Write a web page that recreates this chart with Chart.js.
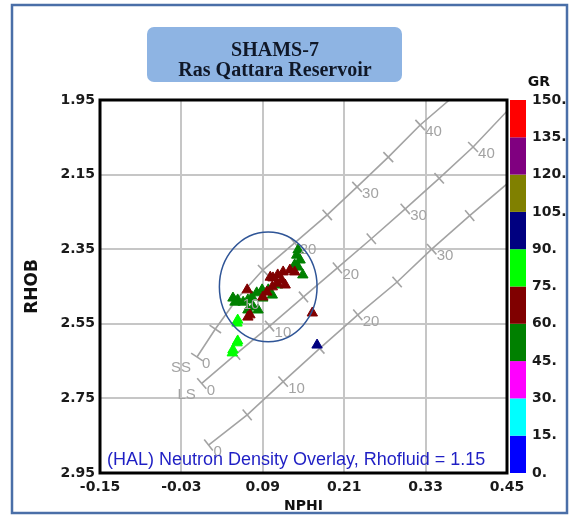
<!DOCTYPE html>
<html>
<head>
<meta charset="utf-8">
<script src="https://cdn.jsdelivr.net/npm/chart.js@4.4.1/dist/chart.umd.min.js"></script>
<style>
  html, body { margin: 0; padding: 0; background: #fff; }
  #wrap { position: relative; width: 571px; height: 521px; }
</style>
</head>
<body>
<div id="wrap"><canvas id="xplot" width="571" height="521"></canvas></div>
<script>
// axes
const nphiTicks = [-0.15, -0.03, 0.09, 0.21, 0.33, 0.45];
const rhobTicks = [1.95, 2.15, 2.35, 2.55, 2.75, 2.95];
const grTicks = [0, 15, 30, 45, 60, 75, 90, 105, 120, 135, 150];
const grColors = ['#0000ff', '#00ffff', '#ff00ff', '#008000', '#800000',
                  '#00ff00', '#000080', '#808000', '#800080', '#ff0000'];

// lithology overlay lines, a tick every 5 p.u.
const poro = [0, 5, 10, 15, 20, 25, 30, 35, 40];
const ssNphi = [-0.007, 0.020, 0.053, 0.090, 0.137, 0.185, 0.229, 0.275, 0.322];
const ssRhob = [2.639, 2.564, 2.481, 2.406, 2.333, 2.258, 2.183, 2.103, 2.017];
const ssEnd = [0.365, 1.95];
const lsNphi = [0.0, 0.05, 0.10, 0.15, 0.20, 0.25, 0.30, 0.35, 0.40];
const lsRhob = [2.71, 2.632, 2.556, 2.478, 2.400, 2.322, 2.242, 2.160, 2.076];
const lsEnd = [0.45, 1.98];
const dolNphi = [0.010, 0.067, 0.120, 0.174, 0.230, 0.288, 0.339, 0.395];
const dolRhob = [2.875, 2.794, 2.705, 2.616, 2.526, 2.438, 2.350, 2.260];
const dolEnd = [0.45, 2.175];

// log samples
const ptNphi = [0.142, 0.140, 0.145, 0.137, 0.142, 0.149, 0.104, 0.098, 0.089, 0.081,
                0.074, 0.068, 0.061, 0.053, 0.049, 0.046, 0.076, 0.068, 0.083, 0.090, 0.112,
                0.130, 0.137, 0.120, 0.112, 0.105, 0.101, 0.118, 0.123, 0.111, 0.104,
                0.096, 0.090, 0.067, 0.071, 0.068, 0.163,
                0.053, 0.052, 0.053, 0.052, 0.046, 0.045,
                0.170];
const ptRhob = [2.352, 2.366, 2.379, 2.392, 2.398, 2.419, 2.473, 2.459, 2.459, 2.467,
                2.478, 2.486, 2.492, 2.486, 2.492, 2.481, 2.505, 2.513, 2.513, 2.481, 2.446,
                2.406, 2.411, 2.411, 2.419, 2.427, 2.425, 2.433, 2.446, 2.441, 2.451,
                2.465, 2.478, 2.459, 2.526, 2.532, 2.521,
                2.540, 2.548, 2.596, 2.601, 2.620, 2.628,
                2.607];
const ptGr = [52, 50, 54, 51, 53, 49, 55, 52, 50, 53,
              51, 54, 50, 52, 56, 53, 51, 55, 50, 52, 54,
              68, 66, 70, 67, 64, 69, 65, 71, 66, 68,
              63, 67, 70, 66, 69, 72,
              82, 80, 84, 79, 83, 81,
              96];

// porosity circle
const ellipse = { nphi: 0.098, rhob: 2.451, rNphi: 0.072, rRhob: 0.147 };

function grColor(v) {
  for (let i = 0; i < grColors.length; i++) {
    if (v < grTicks[i + 1]) return grColors[i];
  }
  return grColors[grColors.length - 1];
}

function tickAngle(ctx) {
  const d = ctx.dataset.data, i = ctx.dataIndex;
  const a = d[Math.max(i - 1, 0)], b = d[Math.min(i + 1, d.length - 1)];
  const xs = ctx.chart.scales.x, ys = ctx.chart.scales.y;
  const dx = xs.getPixelForValue(b.x) - xs.getPixelForValue(a.x);
  const dy = ys.getPixelForValue(b.y) - ys.getPixelForValue(a.y);
  return Math.atan2(dy, dx) * 180 / Math.PI + 90;
}

function lithLine(name, nphi, rhob, end) {
  const data = nphi.map((v, i) => ({ x: v, y: rhob[i], p: poro[i] }));
  data.push({ x: end[0], y: end[1], p: null });
  return {
    label: name,
    data: data,
    showLine: true,
    borderColor: '#a3a3a3',
    borderWidth: 1.6,
    pointStyle: 'line',
    pointRadius: ctx => ctx.raw && ctx.raw.p !== null ? 7 : 0,
    pointBorderColor: '#a3a3a3',
    pointBorderWidth: 1.6,
    pointRotation: tickAngle
  };
}

const decor = {
  id: 'decor',
  beforeDraw(chart) {
    const c = chart.ctx;
    c.save();
    c.fillStyle = '#fff';
    c.fillRect(0, 0, chart.width, chart.height);
    // outer frame
    c.strokeStyle = '#4a6fa8';
    c.lineWidth = 2.5;
    c.strokeRect(12, 5, 555, 508);
    // title box
    c.fillStyle = '#8eb4e3';
    c.beginPath();
    c.roundRect(147, 27, 255, 55, 7);
    c.fill();
    c.fillStyle = '#101828';
    c.font = 'bold 20px "Liberation Serif"';
    c.textAlign = 'center';
    c.textBaseline = 'alphabetic';
    c.fillText('SHAMS-7', 275, 56);
    c.fillText('Ras Qattara Reservoir', 275, 76);
    c.restore();
  },
  afterDatasetsDraw(chart) {
    const c = chart.ctx, xs = chart.scales.x, ys = chart.scales.y;
    c.save();
    // porosity labels on lines
    c.fillStyle = '#a3a3a3';
    c.font = '15px "Liberation Sans"';
    c.textBaseline = 'middle';
    const lines = [[ssNphi, ssRhob, 'SS'], [lsNphi, lsRhob, 'LS'], [dolNphi, dolRhob, null]];
    lines.forEach(([nx, ry, name]) => {
      nx.forEach((v, i) => {
        if (poro[i] % 10 !== 0) return;
        const px = xs.getPixelForValue(v), py = ys.getPixelForValue(ry[i]);
        c.textAlign = 'left';
        c.fillText(String(poro[i]), px + 5, py + 7);
        if (i === 0 && name) {
          c.textAlign = 'right';
          c.fillText(name, px - 6, py + 11);
        }
      });
    });
    // circle
    const cx = xs.getPixelForValue(ellipse.nphi), cy = ys.getPixelForValue(ellipse.rhob);
    const rx = Math.abs(xs.getPixelForValue(ellipse.nphi + ellipse.rNphi) - cx);
    const ry = Math.abs(ys.getPixelForValue(ellipse.rhob + ellipse.rRhob) - cy);
    c.strokeStyle = '#2f5597';
    c.lineWidth = 1.5;
    c.beginPath();
    c.ellipse(cx, cy, rx, ry, 0, 0, Math.PI * 2);
    c.stroke();
    // overlay note
    const a = chart.chartArea;
    c.fillStyle = '#1f1fc4';
    c.font = '18px "Liberation Sans"';
    c.textAlign = 'left';
    c.fillText('(HAL) Neutron Density Overlay, Rhofluid = 1.15', a.left + 7, a.bottom - 13);
    c.restore();
  },
  afterDraw(chart) {
    const c = chart.ctx, a = chart.chartArea, gs = chart.scales.gr;
    c.save();
    c.strokeStyle = '#000';
    c.lineWidth = 3;
    c.strokeRect(a.left, a.top, a.right - a.left, a.bottom - a.top);
    // GR colour bar
    for (let i = 0; i < grColors.length; i++) {
      const top = gs.getPixelForValue(grTicks[i + 1]);
      const bot = gs.getPixelForValue(grTicks[i]);
      c.fillStyle = grColors[i];
      c.fillRect(gs.left + 3, top, 16, bot - top);
    }
    c.fillStyle = '#111';
    c.font = 'bold 14px "DejaVu Sans"';
    c.textAlign = 'center';
    c.textBaseline = 'middle';
    c.fillText('GR', 539, 82);
    c.restore();
  }
};

const tickFont = { family: 'DejaVu Sans', size: 14, weight: 'bold' };

new Chart(document.getElementById('xplot'), {
  type: 'scatter',
  data: {
    datasets: [
      {
        label: 'GR',
        data: ptNphi.map((v, i) => ({ x: v, y: ptRhob[i], gr: ptGr[i] })),
        pointStyle: 'triangle',
        pointRadius: 6,
        backgroundColor: ctx => grColor(ptGr[ctx.dataIndex]),
        borderColor: ctx => grColor(ptGr[ctx.dataIndex]),
        borderWidth: 1
      },
      lithLine('SS', ssNphi, ssRhob, ssEnd),
      lithLine('LS', lsNphi, lsRhob, lsEnd),
      lithLine('DOL', dolNphi, dolRhob, dolEnd)
    ]
  },
  options: {
    responsive: false,
    animation: false,
    events: [],
    devicePixelRatio: 1,
    layout: { padding: { left: 12, top: 100, right: 0, bottom: 4 } },
    plugins: { legend: { display: false }, tooltip: { enabled: false } },
    scales: {
      x: {
        type: 'linear',
        min: -0.15, max: 0.45,
        afterBuildTicks: s => { s.ticks = nphiTicks.map(v => ({ value: v })); },
        afterFit: s => { s.height = 44; },
        grid: { color: '#c6c6c6', lineWidth: 2, drawTicks: false },
        border: { display: false },
        ticks: {
          autoSkip: false, maxRotation: 0, padding: 6, color: '#1a1a1a', font: tickFont,
          callback: v => v.toFixed(2)
        },
        title: {
          display: true, text: 'NPHI', color: '#111',
          font: { family: 'DejaVu Sans', size: 14, weight: 'bold' },
          padding: { top: 0, bottom: 2 }
        }
      },
      y: {
        type: 'linear',
        reverse: true,
        min: 1.95, max: 2.95,
        afterBuildTicks: s => { s.ticks = rhobTicks.map(v => ({ value: v })); },
        afterFit: s => { s.width = 88; },
        grid: { color: '#c6c6c6', lineWidth: 2, drawTicks: false },
        border: { display: false },
        ticks: {
          autoSkip: false, padding: 5, color: '#1a1a1a', font: tickFont,
          callback: v => v.toFixed(2)
        },
        title: {
          display: true, text: 'RHOB', color: '#111',
          font: { family: 'DejaVu Sans', size: 17, weight: 'bold' },
          padding: { top: 10, bottom: 0 }
        }
      },
      gr: {
        type: 'linear',
        position: 'right',
        min: 0, max: 150,
        afterBuildTicks: s => { s.ticks = grTicks.map(v => ({ value: v })); },
        afterFit: s => { s.width = 64; },
        grid: { display: false, drawTicks: false },
        border: { display: false },
        ticks: {
          autoSkip: false, padding: 25, color: '#1a1a1a', font: tickFont,
          callback: v => v + '.'
        }
      }
    }
  },
  plugins: [decor]
});
</script>
</body>
</html>
